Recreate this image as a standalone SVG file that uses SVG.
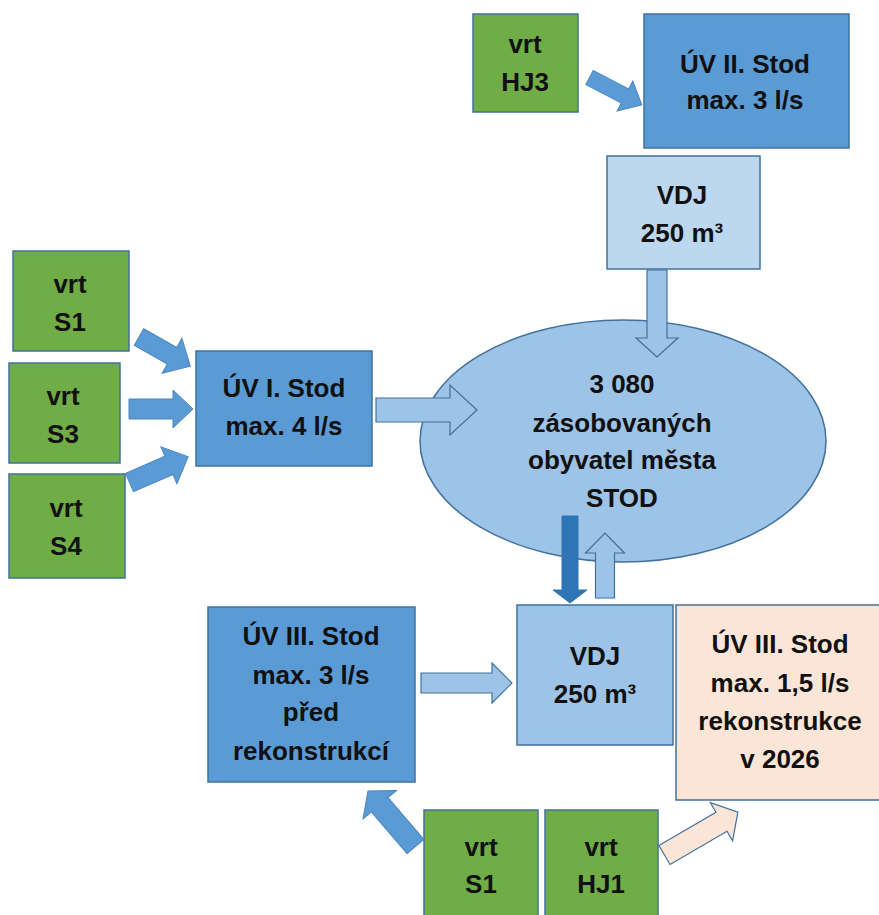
<svg xmlns="http://www.w3.org/2000/svg" width="879" height="915" viewBox="0 0 879 915">
<style>
text{font-family:"Liberation Sans",Arial,sans-serif;font-weight:bold;font-size:26px;fill:#111;text-anchor:middle}
.g{fill:#70AD47;stroke:#41719C;stroke-width:1.5}
.b{fill:#5B9BD5;stroke:#41719C;stroke-width:1.5}
.lb{fill:#BDD7EE;stroke:#41719C;stroke-width:1.5}
.mb{fill:#9DC3E6;stroke:#41719C;stroke-width:1.5}
.pe{fill:#FBE5D6;stroke:#41719C;stroke-width:1.5}
.ab{fill:#5B9BD5;stroke:#4A86BF;stroke-width:1}
.al{fill:#9DC3E6;stroke:#41719C;stroke-width:1.2}
.ad{fill:#2E75B6;stroke:#2E75B6;stroke-width:1}
.ap{fill:#FBE5D6;stroke:#41719C;stroke-width:1.2}
</style>
<rect width="879" height="915" fill="#fff"/>
<g id="vrt-hj3"><rect class="g" x="473" y="14" width="105" height="98"/><text x="525" y="53">vrt</text><text x="525" y="91">HJ3</text></g>
<g id="uv2"><rect class="b" x="644" y="14" width="205" height="134"/><text x="745" y="73">ÚV II. Stod</text><text x="745" y="109">max. 3 l/s</text></g>
<g id="vdj-top"><rect class="lb" x="607" y="156" width="153" height="113"/><text x="682" y="204">VDJ</text><text x="682" y="242">250 m³</text></g>
<g id="vrt-s1"><rect class="g" x="13" y="251" width="116" height="100"/><text x="70" y="293">vrt</text><text x="70" y="331">S1</text></g>
<g id="vrt-s3"><rect class="g" x="9" y="363" width="111" height="100"/><text x="63" y="405">vrt</text><text x="63" y="443">S3</text></g>
<g id="vrt-s4"><rect class="g" x="9" y="474" width="116" height="104"/><text x="66" y="517">vrt</text><text x="66" y="555">S4</text></g>
<g id="uv1"><rect class="b" x="196" y="351" width="176" height="115"/><text x="284" y="397">ÚV I. Stod</text><text x="284" y="435">max. 4 l/s</text></g>
<g id="mesto"><ellipse class="mb" cx="623" cy="441" rx="203" ry="121"/><text x="622" y="393">3 080</text><text x="622" y="432">zásobovaných</text><text x="622" y="469">obyvatel města</text><text x="622" y="507">STOD</text></g>
<g id="uv3-pred"><rect class="b" x="208" y="607" width="207" height="175"/><text x="311" y="645">ÚV III. Stod</text><text x="311" y="684">max. 3 l/s</text><text x="311" y="721">před</text><text x="311" y="760">rekonstrukcí</text></g>
<g id="vdj-bottom"><rect class="mb" x="517" y="605" width="156" height="140"/><text x="595" y="665">VDJ</text><text x="595" y="703">250 m³</text></g>
<g id="uv3-rek"><rect class="pe" x="676" y="605" width="210" height="195"/><text x="780" y="653">ÚV III. Stod</text><text x="780" y="692">max. 1,5 l/s</text><text x="780" y="730">rekonstrukce</text><text x="780" y="768">v 2026</text></g>
<g id="vrt-s1b"><rect class="g" x="424" y="810" width="114" height="110"/><text x="481" y="856">vrt</text><text x="481" y="893">S1</text></g>
<g id="vrt-hj1"><rect class="g" x="545" y="810" width="113" height="110"/><text x="601" y="856">vrt</text><text x="601" y="893">HJ1</text></g>
<g id="connectors">
<polygon class="ab" transform="translate(589.5,77.5) rotate(27.6)" points="0,-8 40,-8 40,-17 59,0 40,17 40,8 0,8"/>
<polygon class="ab" transform="translate(139,337) rotate(29.6)" points="0,-9.5 38,-9.5 38,-20 59,0 38,20 38,9.5 0,9.5"/>
<polygon class="ab" transform="translate(129,409)" points="0,-10 44,-10 44,-19 64,0 44,19 44,10 0,10"/>
<polygon class="ab" transform="translate(129.5,482.5) rotate(-23.6)" points="0,-10 43,-10 43,-20 64,0 43,20 43,10 0,10"/>
<polygon class="al" transform="translate(376,410)" points="0,-12 74,-12 74,-25 101,0 74,25 74,12 0,12"/>
<polygon class="al" transform="translate(657,270) rotate(90)" points="0,-10 68,-10 68,-21 87,0 68,21 68,10 0,10"/>
<polygon class="ad" transform="translate(570,516) rotate(90)" points="0,-8 74,-8 74,-17 87,0 74,17 74,8 0,8"/>
<polygon class="al" transform="translate(605,598) rotate(-90)" points="0,-9.5 45,-9.5 45,-19.5 65,0 45,19.5 45,9.5 0,9.5"/>
<polygon class="al" transform="translate(421,683)" points="0,-10 71,-10 71,-20 91,0 71,20 71,10 0,10"/>
<polygon class="ab" transform="translate(415.5,846.5) rotate(-130.6)" points="0,-11 55,-11 55,-22 73,0 55,22 55,11 0,11"/>
<polygon class="ap" transform="translate(664.5,855) rotate(-30.3)" points="0,-11 66,-11 66,-22 85,0 66,22 66,11 0,11"/>
</g>
</svg>
